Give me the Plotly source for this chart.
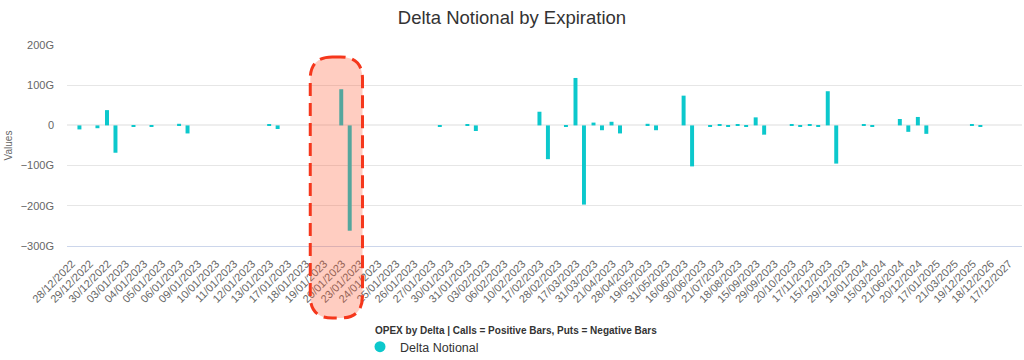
import plotly.graph_objects as go

# ---------------- data ----------------
expirations = [
    "28/12/2022", "29/12/2022", "30/12/2022", "03/01/2023", "04/01/2023", "05/01/2023",
    "06/01/2023", "09/01/2023", "10/01/2023", "11/01/2023", "12/01/2023", "13/01/2023",
    "17/01/2023", "18/01/2023", "19/01/2023", "20/01/2023", "23/01/2023", "24/01/2023",
    "25/01/2023", "26/01/2023", "27/01/2023", "30/01/2023", "31/01/2023", "03/02/2023",
    "06/02/2023", "10/02/2023", "17/02/2023", "28/02/2023", "17/03/2023", "31/03/2023",
    "21/04/2023", "28/04/2023", "19/05/2023", "31/05/2023", "16/06/2023", "30/06/2023",
    "21/07/2023", "18/08/2023", "15/09/2023", "29/09/2023", "20/10/2023", "17/11/2023",
    "15/12/2023", "29/12/2023", "19/01/2024", "15/03/2024", "21/06/2024", "20/12/2024",
    "17/01/2025", "21/03/2025", "19/12/2025", "18/12/2026", "17/12/2027",
]

# Delta notional, in billions (G)
calls_delta_g = [
    0, 0, 38, 0, 0, 0, 4, 0, 0, 0, 0, 3,
    0, 0, 0, 90, 0, 0, 0, 0, 0, 0, 3, 0,
    0, 0, 34, 0, 118, 7, 9, 0, 4, 0, 74, 0,
    2, 2, 20, 0, 2, 3, 85, 0, 2, 0, 16, 21,
    0, 0, 3, 0, 0,
]
puts_delta_g = [
    -10, -7, -68, -3, -3, 0, -20, 0, 0, 0, 0, -9,
    0, 0, 0, -262, 0, 0, 0, 0, -4, 0, -14, 0,
    0, 0, -84, -4, -197, -12, -20, 0, -12, 0, -102, -2,
    -3, -2, -23, 0, -2, -2, -95, 0, -3, 0, -16, -21,
    0, 0, -2, 0, 0,
]

y_tick_values_g = [200, 100, 0, -100, -200, -300]

# highlighted expirations (category index span)
highlight_from = 13.0
highlight_to = 15.9

chart_title = "Delta Notional by Expiration"
caption = "OPEX by Delta | Calls = Positive Bars, Puts = Negative Bars"
series_name = "Delta Notional"

# ---------------- style ----------------
TEAL = "#0cc8cc"
FONT = "Liberation Sans"
W, H = 1024, 360
ML, MR, MT, MB = 67, 2, 45, 114
PW, PH = W - ML - MR, H - MT - MB


def py(px_from_top):
    """pixel row -> paper y"""
    return (MT + PH - px_from_top) / PH


def pxx(px_from_left):
    """pixel column -> paper x"""
    return (px_from_left - ML) / PW


calls = [v * 1e9 for v in calls_delta_g]
puts = [v * 1e9 for v in puts_delta_g]

fig = go.Figure()
fig.add_trace(go.Bar(
    x=expirations, y=calls, name="Calls", showlegend=False,
    marker=dict(color=TEAL, line=dict(width=0)),
    width=0.22, offset=-0.39,
))
fig.add_trace(go.Bar(
    x=expirations, y=puts, name="Puts", showlegend=False,
    marker=dict(color=TEAL, line=dict(width=0)),
    width=0.22, offset=0.08,
))
# legend entry (circle symbol like the original)
fig.add_trace(go.Scatter(
    x=[None], y=[None], mode="markers", name=series_name,
    marker=dict(symbol="circle", size=11, color=TEAL),
))

# highlight rounded rectangle (paper coords derived from category index)
n = len(expirations)
x0 = (highlight_from + 0.5) / n
x1 = (highlight_to + 0.5) / n
y0 = py(318)
y1 = py(57)
rx = 22 / PW
ry = 22 / PH
path = (
    f"M {x0+rx},{y1} L {x1-rx},{y1} Q {x1},{y1} {x1},{y1-ry} "
    f"L {x1},{y0+ry} Q {x1},{y0} {x1-rx},{y0} "
    f"L {x0+rx},{y0} Q {x0},{y0} {x0},{y0+ry} "
    f"L {x0},{y1-ry} Q {x0},{y1} {x0+rx},{y1} Z"
)
fig.add_shape(
    type="path", path=path, xref="paper", yref="paper", layer="above",
    fillcolor="rgba(255,90,50,0.30)",
    line=dict(color="#f5371c", width=3, dash="13px,7px"),
)

fig.add_annotation(
    text=f"<b>{caption}</b>",
    xref="paper", yref="paper", x=pxx(373), y=py(330),
    xanchor="left", yanchor="middle", showarrow=False,
    font=dict(family=FONT, size=10, color="#333333"),
)

fig.update_layout(
    width=W, height=H,
    margin=dict(l=ML, r=MR, t=MT, b=MB, autoexpand=False),
    paper_bgcolor="white", plot_bgcolor="white",
    barmode="overlay",
    font=dict(family=FONT, color="#666666", size=11),
    title=dict(
        text=chart_title,
        x=0.5, xref="container", xanchor="center",
        y=1 - 18 / H, yref="container", yanchor="middle",
        font=dict(family=FONT, size=18.5, color="#333333"),
    ),
    showlegend=True,
    legend=dict(
        orientation="h",
        x=pxx(360), xanchor="left",
        y=py(332), yanchor="top",
        font=dict(family=FONT, size=12.5, color="#333333"),
        bgcolor="rgba(0,0,0,0)",
    ),
    xaxis=dict(
        type="category",
        automargin=False,
        tickangle=-45,
        ticklabelshift=-4,
        ticklabelstandoff=6,
        tickfont=dict(family=FONT, size=11, color="#666666"),
        showgrid=False,
        showline=True, linecolor="#ccd6eb", linewidth=1,
        ticks="",
        fixedrange=True,
    ),
    yaxis=dict(
        automargin=False,
        range=[-300e9, 200e9],
        tickvals=[v * 1e9 for v in y_tick_values_g],
        tickformat="~s",
        tickfont=dict(family=FONT, size=11, color="#666666"),
        gridcolor="#e6e6e6", gridwidth=1,
        zeroline=True, zerolinecolor="#eeeeee", zerolinewidth=2,
        ticklabelstandoff=12,
        title=dict(text="Values", font=dict(family=FONT, size=10, color="#666666"), standoff=6),
    ),
)

# remove the browser's default 8px page margin so the figure sits at (0, 0)
fig.write_html(
    "out.html",
    config={"displayModeBar": False},
    post_script="document.body.style.margin='0';",
)
